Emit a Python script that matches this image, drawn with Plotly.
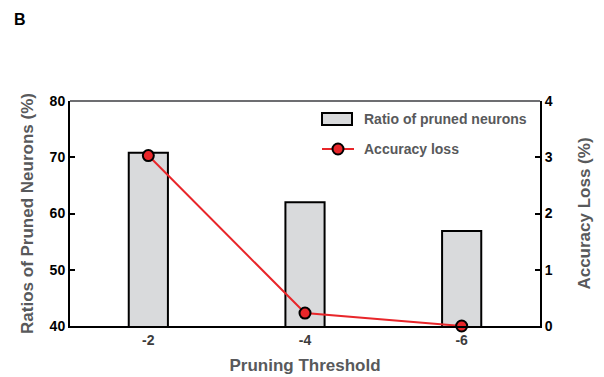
import plotly.graph_objects as go

# Pruning thresholds and measured results
thresholds = ["-2", "-4", "-6"]
pruned_ratio = [70.8, 62.0, 56.9]      # % of neurons pruned
accuracy_loss = [3.03, 0.23, 0.0]      # % accuracy loss

FONT = "Liberation Sans, Arial, sans-serif"
TITLE_GRAY = "#58595b"
BAR_FILL = "#d9dadc"
RED = "#e8262a"

# plot area in pixels
W, H = 604, 377
ML, MR, MT, MB = 70, 64, 101, 51
PW, PH = W - ML - MR, H - MT - MB


def px(x):
    return (x - ML) / PW


def py(y):
    return (H - MB - y) / PH


fig = go.Figure()

fig.add_trace(go.Bar(
    x=thresholds, y=pruned_ratio, name="Ratio of pruned neurons",
    width=0.25,
    marker=dict(color=BAR_FILL, line=dict(color="black", width=2)),
    yaxis="y",
))

fig.add_trace(go.Scatter(
    x=thresholds, y=accuracy_loss, name="Accuracy loss",
    mode="lines+markers",
    line=dict(color=RED, width=2),
    marker=dict(color=RED, size=11, line=dict(color="black", width=2)),
    yaxis="y2", cliponaxis=False,
))

# legend drawn with shapes and annotations
legend_shapes = [
    dict(type="rect", xref="paper", yref="paper",
         x0=px(322), x1=px(352), y0=py(125), y1=py(113),
         fillcolor=BAR_FILL, line=dict(color="black", width=2)),
    dict(type="line", xref="paper", yref="paper",
         x0=px(322), x1=px(354), y0=py(149), y1=py(149),
         line=dict(color=RED, width=2)),
    dict(type="circle", xref="paper", yref="paper",
         xsizemode="pixel", ysizemode="pixel",
         xanchor=px(338), yanchor=py(149), x0=-5.5, x1=5.5, y0=-5.5, y1=5.5,
         fillcolor=RED, line=dict(color="black", width=2)),
]
legend_labels = [
    dict(text="<b>Ratio of pruned neurons</b>", x=px(362), y=py(119)),
    dict(text="<b>Accuracy loss</b>", x=px(362), y=py(149)),
]

fig.update_layout(
    width=W, height=H,
    margin=dict(l=ML, r=MR, t=MT, b=MB),
    paper_bgcolor="white", plot_bgcolor="white",
    font=dict(family=FONT, color="black"),
    showlegend=False,
    xaxis=dict(
        range=[-0.5, 2.5], showline=True, linecolor="black", linewidth=2,
        ticks="", showgrid=False, zeroline=False, automargin=False,
        tickfont=dict(size=14, color="#3c3c3c", family=FONT, weight="bold"),
        title=dict(text="<b>Pruning Threshold</b>", font=dict(size=17, color=TITLE_GRAY), standoff=12),
    ),
    yaxis=dict(
        range=[40, 80], dtick=10, showline=True, linecolor="black", linewidth=2,
        ticks="inside", ticklen=5, tickwidth=2, tickcolor="black",
        showgrid=False, zeroline=False, automargin=False,
        tickfont=dict(size=14, color="black", family=FONT, weight="bold"),
        title=dict(text="<b>Ratios of Pruned Neurons (%)</b>", font=dict(size=17, color=TITLE_GRAY), standoff=12),
    ),
    yaxis2=dict(
        range=[0, 4], dtick=1, overlaying="y", side="right",
        showline=True, linecolor="black", linewidth=2,
        ticks="inside", ticklen=5, tickwidth=2, tickcolor="black",
        showgrid=False, zeroline=False, automargin=False,
        tickfont=dict(size=14, color="black", family=FONT, weight="bold"),
        title=dict(text="<b>Accuracy Loss (%)</b>", font=dict(size=17, color=TITLE_GRAY), standoff=26),
    ),
    shapes=[dict(type="line", xref="paper", yref="paper", x0=0, x1=1, y0=1, y1=1,
                 line=dict(color="#6d6e71", width=2))] + legend_shapes,
    annotations=[
        dict(text="<b>B</b>", x=px(12), y=py(19), xref="paper", yref="paper",
             xanchor="left", yanchor="middle", showarrow=False,
             font=dict(size=16, color="black")),
    ] + [
        dict(text=a["text"], x=a["x"], y=a["y"], xref="paper", yref="paper",
             xanchor="left", yanchor="middle", showarrow=False,
             font=dict(size=14, color=TITLE_GRAY))
        for a in legend_labels
    ],
)

fig.write_html("out.html")
